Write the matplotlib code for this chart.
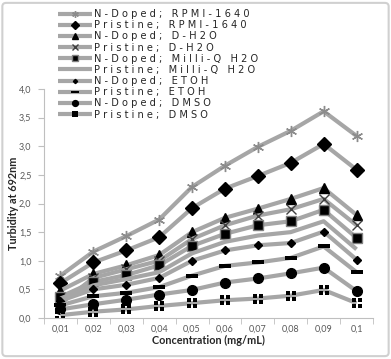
import matplotlib
matplotlib.use("Agg")
import matplotlib.pyplot as plt
from matplotlib.path import Path
from matplotlib.patches import FancyBboxPatch
import numpy as np

concentrations = ["0,01", "0,02", "0,03", "0,04", "0,05", "0,06", "0,07", "0,08", "0,09", "0,1"]

ndoped_rpmi = [0.74, 1.16, 1.43, 1.72, 2.29, 2.66, 2.99, 3.27, 3.61, 3.18]
pristine_rpmi = [0.61, 0.97, 1.18, 1.41, 1.92, 2.26, 2.48, 2.71, 3.04, 2.59]
ndoped_dh2o = [0.48, 0.77, 0.92, 1.10, 1.50, 1.75, 1.91, 2.08, 2.27, 1.80]
pristine_dh2o = [0.25, 0.70, 0.85, 1.00, 1.38, 1.62, 1.79, 1.90, 2.08, 1.62]
ndoped_milliq = [0.37, 0.63, 0.75, 0.92, 1.26, 1.47, 1.62, 1.69, 1.89, 1.40]
pristine_milliq = [0.34, 0.57, 0.68, 0.80, 1.13, 1.33, 1.44, 1.50, 1.69, 1.20]
ndoped_etoh = [0.30, 0.50, 0.58, 0.70, 1.00, 1.18, 1.27, 1.31, 1.51, 1.02]
pristine_etoh = [0.22, 0.38, 0.44, 0.54, 0.74, 0.91, 0.97, 1.05, 1.25, 0.80]
ndoped_dmso = [0.15, 0.24, 0.32, 0.41, 0.49, 0.62, 0.69, 0.78, 0.88, 0.47]
pristine_dmso = [0.05, 0.11, 0.15, 0.21, 0.26, 0.31, 0.34, 0.39, 0.49, 0.26]

labels = [
    "N-Doped; RPMI-1640", "Pristine; RPMI-1640",
    "N-Doped; D-H2O", "Pristine; D-H2O",
    "N-Doped; Milli-Q H2O", "Pristine; Milli-Q H2O",
    "N-Doped; ETOH", "Pristine; ETOH",
    "N-Doped; DMSO", "Pristine; DMSO",
]
series = [ndoped_rpmi, pristine_rpmi, ndoped_dh2o, pristine_dh2o, ndoped_milliq,
          pristine_milliq, ndoped_etoh, pristine_etoh, ndoped_dmso, pristine_dmso]
y_ticks = [0.0, 0.5, 1.0, 1.5, 2.0, 2.5, 3.0, 3.5, 4.0]


def spaced(label):
    left, right = label.split("; ")
    return " ".join(left + ";") + "   " + " ".join(right)


# custom markers
dash_marker = Path([(-1, -0.33), (1, -0.33), (1, 0.33), (-1, 0.33), (-1, -0.33)],
                   [Path.MOVETO, Path.LINETO, Path.LINETO, Path.LINETO, Path.CLOSEPOLY])
sq_verts, sq_codes = [], []
g = 0.12
for (x0, y0) in [(-1, -1), (g, -1), (-1, g), (g, g)]:
    x1, y1 = x0 + (1 - g), y0 + (1 - g)
    sq_verts += [(x0, y0), (x1, y0), (x1, y1), (x0, y1), (x0, y0)]
    sq_codes += [Path.MOVETO, Path.LINETO, Path.LINETO, Path.LINETO, Path.CLOSEPOLY]
cross_sq_marker = Path(sq_verts, sq_codes)

styles = [
    dict(marker=(6, 2, 0), ms=8, mec="#8c8c8c", mfc="#8c8c8c", mew=1.0),
    dict(marker="D", ms=7.5, mec="black", mfc="black"),
    dict(marker="^", ms=7, mec="black", mfc="black"),
    dict(marker="x", ms=6.5, mec="#404040", mew=1.0),
    dict(marker="s", ms=6.5, mec="#808080", mfc="black", mew=1.0),
    dict(marker="None"),
    dict(marker="D", ms=3.6, mec="black", mfc="black"),
    dict(marker=dash_marker, ms=9, mec="black", mfc="black", mew=0),
    dict(marker="o", ms=7, mec="black", mfc="black"),
    dict(marker=cross_sq_marker, ms=7.5, mec="black", mfc="black", mew=0),
]

plt.rcParams["font.family"] = ["Lato", "DejaVu Sans"]

fig = plt.figure(figsize=(3.91, 3.59), dpi=100)
fig.patch.set_facecolor("white")
border = FancyBboxPatch((0.006, 0.008), 0.988, 0.984, boxstyle="round,pad=0,rounding_size=0.01",
                        transform=fig.transFigure, fill=False, edgecolor="#d0d0d0", linewidth=1.5)
fig.patches.append(border)

ax = fig.add_axes([44 / 391, 1 - 318 / 359, (373 - 44) / 391, (318 - 89) / 359])
x = np.arange(1, len(concentrations) + 1)
for vals, lab, st in zip(series, labels, styles):
    ax.plot(x, vals, color="#a6a6a6", lw=3, label=spaced(lab), solid_capstyle="butt", **st)

ax.set_xlim(0.5, len(concentrations) + 0.5)
ax.set_ylim(0, 4.0)
ax.set_xticks(x)
ax.set_xticklabels(concentrations)
ax.set_xticks(np.arange(0.5, len(concentrations) + 1, 1), minor=True)
ax.tick_params(axis="x", which="major", length=0, pad=5, labelsize=6.5, labelcolor="#595959")
ax.tick_params(axis="x", which="minor", length=4, color="#bfbfbf", direction="out")
ax.set_yticks(y_ticks)
ax.set_yticklabels([f"{v:.1f}".replace(".", ",") for v in y_ticks])
ax.tick_params(axis="y", length=4, color="#bfbfbf", labelsize=6.5, labelcolor="#595959", pad=5)
for s in ["top", "right"]:
    ax.spines[s].set_visible(False)
for s in ["left", "bottom"]:
    ax.spines[s].set_color("#bfbfbf")
    ax.spines[s].set_linewidth(0.8)
ax.set_xlabel("Concentration (mg/mL)", fontsize=7.8, fontweight="bold", color="#262626")
ax.set_ylabel("Turbidity at 692nm", fontsize=7.8, fontweight="bold", color="#262626")
ax.xaxis.set_label_coords(0.5, (318 - 335) / 229)
ax.yaxis.set_label_coords((19 - 44) / 329, 0.5)

leg = fig.legend(loc="upper left", bbox_to_anchor=(58 / 391, 1 - 9 / 359), frameon=False,
                 handlelength=3.4, handletextpad=0.2, labelspacing=0.12, markerscale=0.6,
                 borderpad=0, borderaxespad=0, prop={"family": "DejaVu Sans", "size": 7.1})
for t in leg.get_texts():
    t.set_color("#262626")

fig.savefig("out.png", dpi=100, facecolor="white")
